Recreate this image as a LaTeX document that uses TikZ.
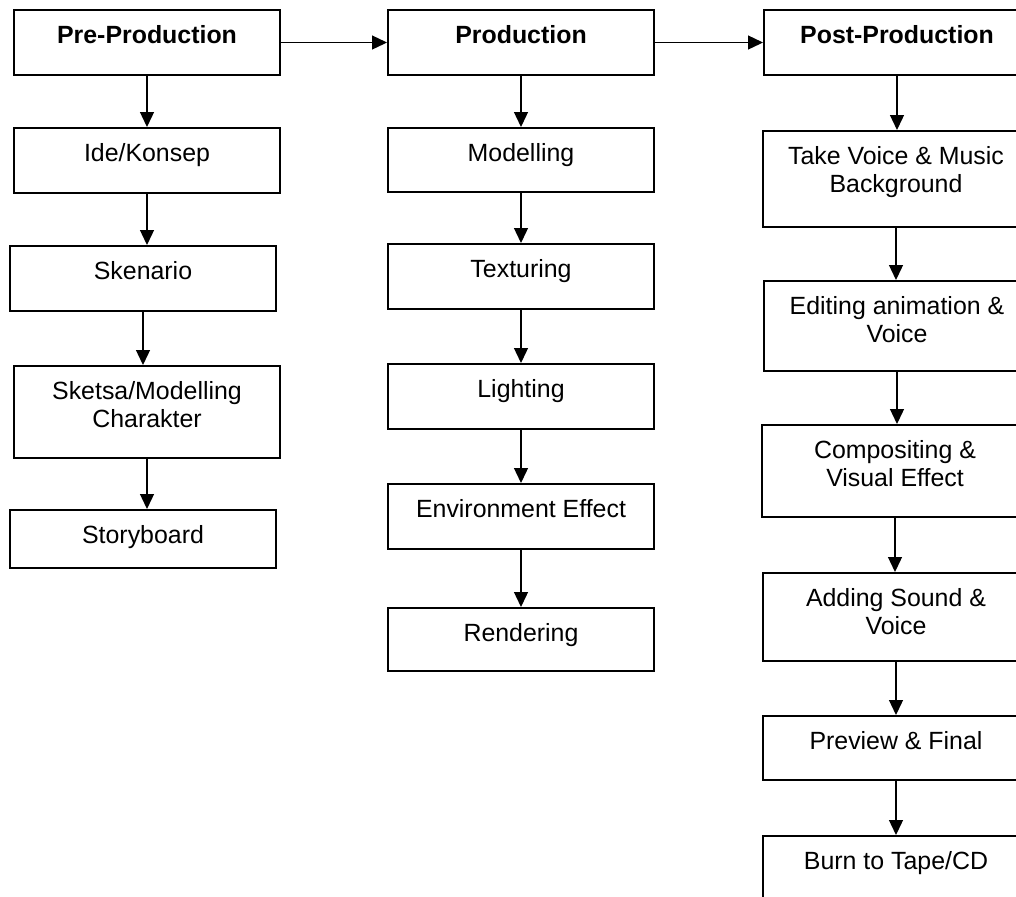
\documentclass[tikz,border=0pt]{standalone}
\usepackage{fontspec}
\setmainfont{Liberation Sans}
\usetikzlibrary{arrows.meta}

\begin{document}
\begin{tikzpicture}[x=0.5pt,y=-0.5pt]
    \tikzstyle{box}=[rectangle,draw=black,line width=1pt,minimum width=133pt,anchor=north west,inner sep=0pt]
    \tikzstyle{txt}=[anchor=north,align=center,inner sep=0pt,font=\fontsize{12.45}{14.2}\selectfont]
    \tikzstyle{arr}=[-{Triangle[length=7.5pt,width=7pt]},line width=0.65pt]
    \useasboundingbox (0,0) rectangle (1016,896);

    \foreach \name/\x/\y/\h in {pre/13/9/65, ide/13/127/65, sken/9/245/65, sketsa/13/365/92, story/9/509/58,
                               prod/387/9/65, model/387/127/64, tex/387/243/65, light/387/363/65, env/387/483/65, rend/387/607/63,
                               post/763/9/65, voice/762/130/96, edit/763/280/90, comp/761/424/92, add/762/572/88, prev/762/715/64, burn/762/835/90}
        \node[box,minimum height=\h*0.5pt] (\name) at (\x,\y) {};

    \foreach \name/\txt in {pre/{\textbf{Pre-Production}}, ide/{Ide/Konsep}, sken/{Skenario}, sketsa/{Sketsa/Modelling\\Charakter}, story/{Storyboard},
                           prod/{\textbf{Production}}, model/{Modelling}, tex/{Texturing}, light/{Lighting}, env/{Environment Effect}, rend/{Rendering},
                           post/{\textbf{Post-Production}}, voice/{Take Voice \& Music\\Background}, edit/{Editing animation \&\\Voice},
                           comp/{Compositing \&\\Visual Effect}, add/{Adding Sound \&\\Voice}, prev/{Preview \& Final}, burn/{Burn to Tape/CD}}
        \node[txt] (\name-t) at ([yshift=-8pt]\name.north) {\txt};

    \draw[arr] (pre) -- (prod);
    \draw[arr] (prod) -- (post);

    \foreach \from/\to in {pre/ide, ide/sken, sken/sketsa, sketsa/story,
                           prod/model, model/tex, tex/light, light/env, env/rend,
                           post/voice, voice/edit, edit/comp, comp/add, add/prev, prev/burn}
        \draw[arr] (\from.south) -- (\from.south |- \to.north);
\end{tikzpicture}
\end{document}
